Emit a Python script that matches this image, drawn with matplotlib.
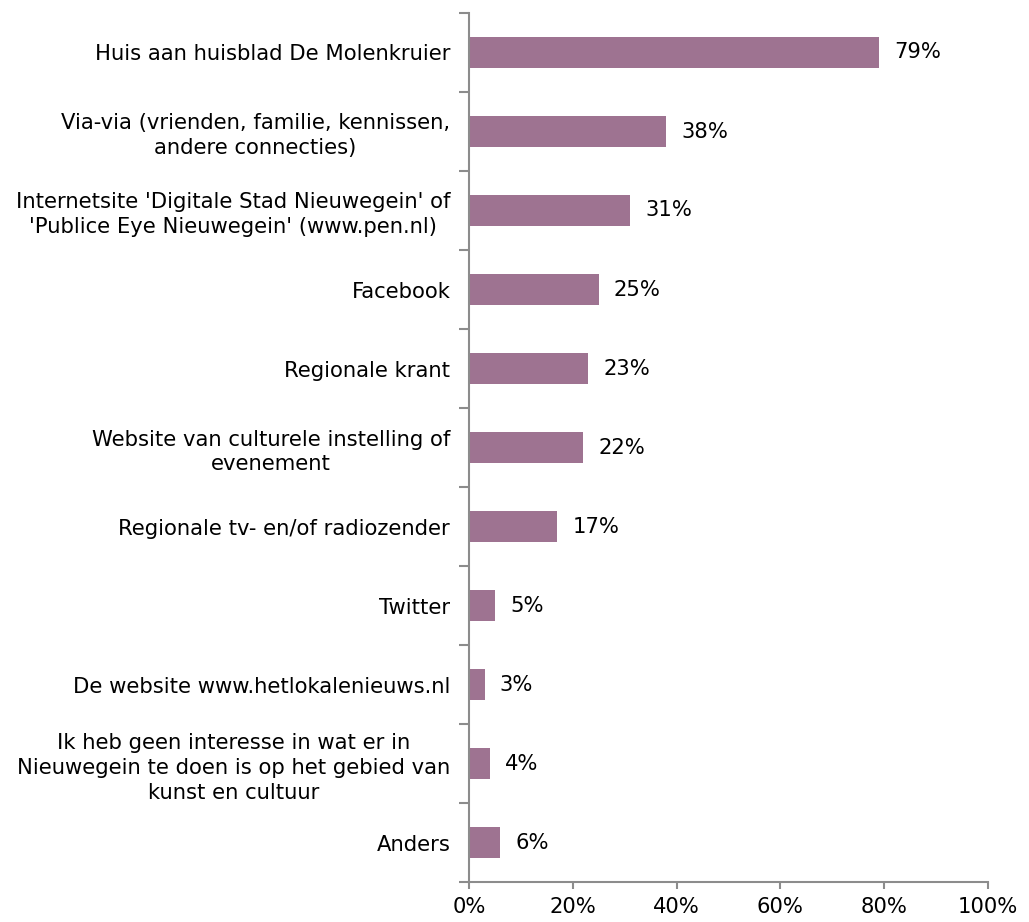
import matplotlib
matplotlib.use("Agg")
import matplotlib.pyplot as plt
from matplotlib.ticker import FixedLocator

categories = [
    "Huis aan huisblad De Molenkruier",
    "Via-via (vrienden, familie, kennissen,\nandere connecties)",
    "Internetsite 'Digitale Stad Nieuwegein' of\n'Publice Eye Nieuwegein' (www.pen.nl)",
    "Facebook",
    "Regionale krant",
    "Website van culturele instelling of\nevenement",
    "Regionale tv- en/of radiozender",
    "Twitter",
    "De website www.hetlokalenieuws.nl",
    "Ik heb geen interesse in wat er in\nNieuwegein te doen is op het gebied van\nkunst en cultuur",
    "Anders",
]
values = [79, 38, 31, 25, 23, 22, 17, 5, 3, 4, 6]
xticks = [0, 20, 40, 60, 80, 100]

bar_color = "#9E7391"
axis_color = "#8C8C8C"
fs = 15.2

fig = plt.figure(figsize=(10.29, 9.22), dpi=100)
ax = fig.add_axes([469/1029, 40/922, (988-469)/1029, (882-13)/922])

n = len(categories)
ypos = list(range(n))
ax.barh(ypos, values, height=0.40, color=bar_color, zorder=2)
ax.set_ylim(n - 0.5, -0.5)
ax.set_xlim(0, 100)

for y, v in zip(ypos, values):
    ax.text(v + 2.9, y, f"{v}%", va="center", ha="left", fontsize=fs, color="black")

ax.set_yticks(ypos)
ax.set_yticklabels(categories, fontsize=fs, ha="right", multialignment="center",
                   linespacing=1.3)
ax.yaxis.set_minor_locator(FixedLocator([i - 0.5 for i in range(n + 1)]))
ax.tick_params(axis="y", which="minor", length=7, width=1.5, color=axis_color, direction="out")
ax.tick_params(axis="y", which="major", length=0, pad=13.5)

ax.set_xticks(xticks)
ax.set_xticklabels([f"{t}%" for t in xticks], fontsize=fs)
ax.tick_params(axis="x", length=5, width=1.5, color=axis_color, direction="out", pad=6)

for s in ["top", "right"]:
    ax.spines[s].set_visible(False)
for s in ["left", "bottom"]:
    ax.spines[s].set_color(axis_color)
    ax.spines[s].set_linewidth(1.5)

fig.savefig("out.png", dpi=100)
